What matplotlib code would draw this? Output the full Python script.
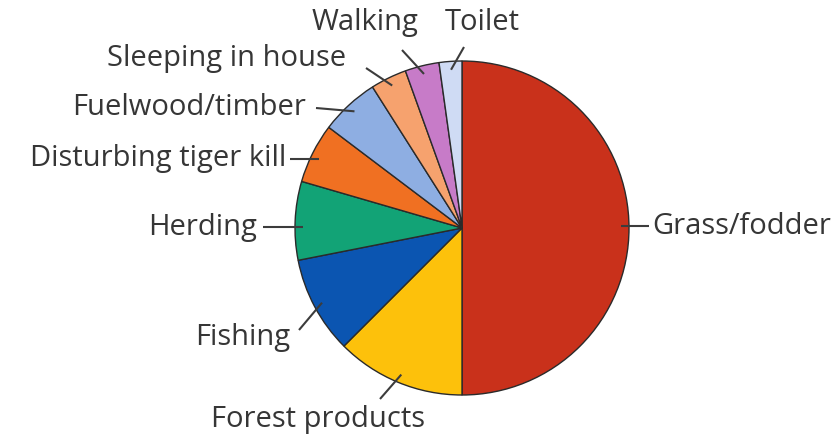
import matplotlib.pyplot as plt
import numpy as np

# share of incidents by activity, in percent
activities = ["Grass/fodder", "Forest products", "Fishing", "Herding",
              "Disturbing tiger kill", "Fuelwood/timber", "Sleeping in house",
              "Walking", "Toilet"]
shares = [50.0, 12.5, 9.4, 7.6, 5.8, 5.7, 3.5, 3.3, 2.2]
colors = ["#C9311B", "#FDC10B", "#0B55B1", "#12A376", "#F07022",
          "#8EAEE2", "#F6A26E", "#C77BC8", "#CFDBF4"]

# label text anchor (x, y in pixels, top-left origin), alignment,
# leader end, and whether the leader runs level
label_pos = {
    "Grass/fodder": (652, 226, "left", (649, 226), True),
    "Forest products": (318, 419, "center", (380, 399), False),
    "Fishing": (243, 337, "center", (299, 330), False),
    "Herding": (257, 227, "right", (263, 227), True),
    "Disturbing tiger kill": (286, 158, "right", (290, 159), True),
    "Fuelwood/timber": (306, 107, "right", (316, 108), False),
    "Sleeping in house": (346, 58, "right", (366, 68), False),
    "Walking": (365, 22, "center", (402, 50), False),
    "Toilet": (482, 22, "center", (464, 47), False),
}

W, H = 840, 440
cx, cy, r = 462, 228, 167

fig = plt.figure(figsize=(8.4, 4.4), dpi=100)
ax = fig.add_axes([0, 0, 1, 1])

wedges, _ = ax.pie(shares, colors=colors, startangle=90, counterclock=False,
                   center=(cx, H - cy), radius=r, frame=True,
                   wedgeprops=dict(edgecolor="#2a2a2a", linewidth=1.0))
ax.set_xlim(0, W)
ax.set_ylim(0, H)
ax.set_aspect("equal")
ax.axis("off")

for w, name in zip(wedges, activities):
    tx, ty, ha, (ex, ey), level = label_pos[name]
    rin = 0.95 * r
    if level:
        dy = (H - ey) - (H - cy)
        side = 1 if ex > cx else -1
        sx = cx + side * np.sqrt(rin ** 2 - dy ** 2)
        sy = H - ey
    else:
        ang = np.deg2rad((w.theta1 + w.theta2) / 2)
        sx = cx + rin * np.cos(ang)
        sy = (H - cy) + rin * np.sin(ang)
    ax.plot([sx, ex], [sy, H - ey], color="#3c3c3c", lw=1.5,
            solid_capstyle="butt")
    ax.text(tx, H - ty, name, ha=ha, va="center", fontsize=21,
            family="Open Sans", color="#363636")

fig.savefig("out.png", dpi=100)
